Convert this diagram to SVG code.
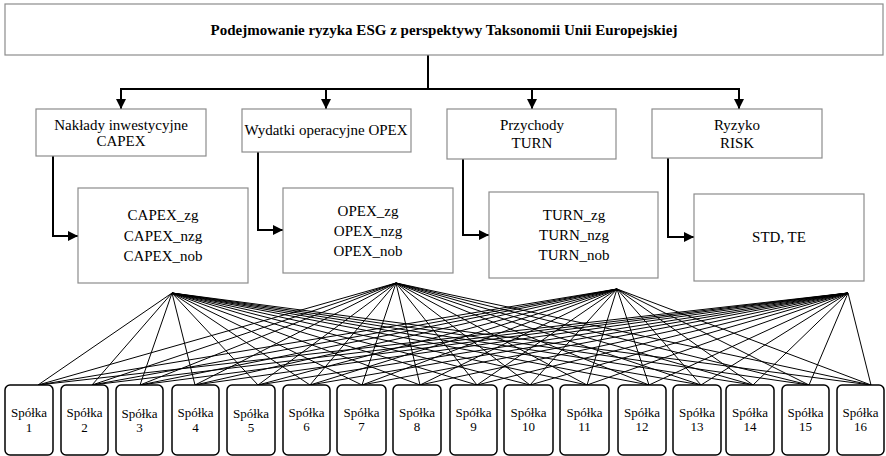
<svg xmlns="http://www.w3.org/2000/svg" width="886" height="456" viewBox="0 0 886 456">
<style>
.box{fill:#fff;stroke:#8c8c8c;stroke-width:1.2}
.sp{fill:#fff;stroke:#000;stroke-width:1.5}
.t{font-family:"Liberation Serif","Times New Roman",serif;font-size:15px;fill:#000;text-anchor:middle}
.title{font-family:"Liberation Serif","Times New Roman",serif;font-size:15px;font-weight:bold;fill:#000;text-anchor:middle}
.s{font-family:"Liberation Serif","Times New Roman",serif;font-size:13px;fill:#000;text-anchor:middle}
.c{fill:none;stroke:#000;stroke-width:2}
.f{stroke:#000;stroke-width:1}
</style>
<defs>
<marker id="ah" markerUnits="userSpaceOnUse" markerWidth="10" markerHeight="10" refX="10" refY="5" orient="auto">
<path d="M0,0 L10,5 L0,10 z" fill="#000"/>
</marker>
</defs>
<g id="connectors">
<path class="c" d="M428,55 V89 M120,89 H740"/>
<line class="c" x1="121" y1="88" x2="121" y2="109" marker-end="url(#ah)"/>
<line class="c" x1="326" y1="88" x2="326" y2="109" marker-end="url(#ah)"/>
<line class="c" x1="532" y1="88" x2="532" y2="109" marker-end="url(#ah)"/>
<line class="c" x1="739" y1="88" x2="739" y2="109" marker-end="url(#ah)"/>
<polyline class="c" points="53,156 53,236 78,236" marker-end="url(#ah)"/>
<polyline class="c" points="258,152 258,230 283,230" marker-end="url(#ah)"/>
<polyline class="c" points="463,159 463,235 489,235" marker-end="url(#ah)"/>
<polyline class="c" points="668,158 668,237 694,237" marker-end="url(#ah)"/>
<g id="fan-capex" class="f">
<line x1="172" y1="293" x2="38" y2="385"/><line x1="172" y1="293" x2="92" y2="385"/><line x1="172" y1="293" x2="140" y2="385"/><line x1="172" y1="293" x2="195" y2="385"/><line x1="172" y1="293" x2="258" y2="385"/><line x1="172" y1="293" x2="310" y2="385"/><line x1="172" y1="293" x2="362" y2="385"/><line x1="172" y1="293" x2="420" y2="385"/><line x1="172" y1="293" x2="477" y2="385"/><line x1="172" y1="293" x2="530" y2="385"/><line x1="172" y1="293" x2="587" y2="385"/><line x1="172" y1="293" x2="649" y2="385"/><line x1="172" y1="293" x2="701" y2="385"/><line x1="172" y1="293" x2="753" y2="385"/><line x1="172" y1="293" x2="809" y2="385"/><line x1="172" y1="293" x2="871" y2="385"/>
</g>
<g id="fan-opex" class="f">
<line x1="396" y1="283" x2="38" y2="385"/><line x1="396" y1="283" x2="92" y2="385"/><line x1="396" y1="283" x2="140" y2="385"/><line x1="396" y1="283" x2="195" y2="385"/><line x1="396" y1="283" x2="258" y2="385"/><line x1="396" y1="283" x2="310" y2="385"/><line x1="396" y1="283" x2="362" y2="385"/><line x1="396" y1="283" x2="420" y2="385"/><line x1="396" y1="283" x2="477" y2="385"/><line x1="396" y1="283" x2="530" y2="385"/><line x1="396" y1="283" x2="587" y2="385"/><line x1="396" y1="283" x2="649" y2="385"/><line x1="396" y1="283" x2="701" y2="385"/><line x1="396" y1="283" x2="753" y2="385"/><line x1="396" y1="283" x2="809" y2="385"/><line x1="396" y1="283" x2="871" y2="385"/>
</g>
<g id="fan-turn" class="f">
<line x1="617" y1="289" x2="38" y2="385"/><line x1="617" y1="289" x2="92" y2="385"/><line x1="617" y1="289" x2="140" y2="385"/><line x1="617" y1="289" x2="195" y2="385"/><line x1="617" y1="289" x2="258" y2="385"/><line x1="617" y1="289" x2="310" y2="385"/><line x1="617" y1="289" x2="362" y2="385"/><line x1="617" y1="289" x2="420" y2="385"/><line x1="617" y1="289" x2="477" y2="385"/><line x1="617" y1="289" x2="530" y2="385"/><line x1="617" y1="289" x2="587" y2="385"/><line x1="617" y1="289" x2="649" y2="385"/><line x1="617" y1="289" x2="701" y2="385"/><line x1="617" y1="289" x2="753" y2="385"/><line x1="617" y1="289" x2="809" y2="385"/><line x1="617" y1="289" x2="871" y2="385"/>
</g>
<g id="fan-risk" class="f">
<line x1="848" y1="293" x2="38" y2="385"/><line x1="848" y1="293" x2="92" y2="385"/><line x1="848" y1="293" x2="140" y2="385"/><line x1="848" y1="293" x2="195" y2="385"/><line x1="848" y1="293" x2="258" y2="385"/><line x1="848" y1="293" x2="310" y2="385"/><line x1="848" y1="293" x2="362" y2="385"/><line x1="848" y1="293" x2="420" y2="385"/><line x1="848" y1="293" x2="477" y2="385"/><line x1="848" y1="293" x2="530" y2="385"/><line x1="848" y1="293" x2="587" y2="385"/><line x1="848" y1="293" x2="649" y2="385"/><line x1="848" y1="293" x2="701" y2="385"/><line x1="848" y1="293" x2="753" y2="385"/><line x1="848" y1="293" x2="809" y2="385"/><line x1="848" y1="293" x2="871" y2="385"/>
</g>
</g>
<g id="title"><rect class="box" x="5" y="4" width="878" height="51"/><text class="title" x="444" y="35">Podejmowanie ryzyka ESG z perspektywy Taksonomii Unii Europejskiej</text></g>
<g id="capex"><rect class="box" x="36" y="109" width="170" height="47"/><text class="t" x="121" y="130">Nakłady inwestycyjne</text><text class="t" x="121" y="146">CAPEX</text></g>
<g id="opex"><rect class="box" x="242" y="109" width="169" height="43"/><text class="t" x="326" y="135">Wydatki operacyjne OPEX</text></g>
<g id="turn"><rect class="box" x="447" y="109" width="169" height="50"/><text class="t" x="532" y="130">Przychody</text><text class="t" x="532" y="148">TURN</text></g>
<g id="risk"><rect class="box" x="652" y="109" width="170" height="49"/><text class="t" x="737" y="130">Ryzyko</text><text class="t" x="737" y="148">RISK</text></g>
<g id="capex-vars"><rect class="box" x="78" y="188" width="170" height="95"/><text class="t" x="163" y="220">CAPEX_zg</text><text class="t" x="163" y="241">CAPEX_nzg</text><text class="t" x="163" y="261">CAPEX_nob</text></g>
<g id="opex-vars"><rect class="box" x="283" y="188" width="170" height="85"/><text class="t" x="368" y="216">OPEX_zg</text><text class="t" x="368" y="236">OPEX_nzg</text><text class="t" x="368" y="256">OPEX_nob</text></g>
<g id="turn-vars"><rect class="box" x="489" y="192" width="169" height="86"/><text class="t" x="574" y="220">TURN_zg</text><text class="t" x="574" y="240">TURN_nzg</text><text class="t" x="574" y="260">TURN_nob</text></g>
<g id="risk-vars"><rect class="box" x="694" y="194" width="170" height="87"/><text class="t" x="779" y="242">STD, TE</text></g>
<g id="s1"><rect class="sp" x="5" y="385" width="48" height="70" rx="5"/><text class="s" x="29" y="417">Spółka</text><text class="s" x="29" y="432">1</text></g>
<g id="s2"><rect class="sp" x="61" y="385" width="47" height="70" rx="5"/><text class="s" x="84.5" y="417">Spółka</text><text class="s" x="84.5" y="432">2</text></g>
<g id="s3"><rect class="sp" x="116" y="385" width="47" height="70" rx="5"/><text class="s" x="139.5" y="418">Spółka</text><text class="s" x="139.5" y="432">3</text></g>
<g id="s4"><rect class="sp" x="172" y="385" width="47" height="70" rx="5"/><text class="s" x="195.5" y="417">Spółka</text><text class="s" x="195.5" y="432">4</text></g>
<g id="s5"><rect class="sp" x="227" y="385" width="48" height="70" rx="5"/><text class="s" x="251" y="418">Spółka</text><text class="s" x="251" y="432">5</text></g>
<g id="s6"><rect class="sp" x="283" y="385" width="47" height="70" rx="5"/><text class="s" x="306.5" y="417">Spółka</text><text class="s" x="306.5" y="431">6</text></g>
<g id="s7"><rect class="sp" x="337" y="385" width="49" height="70" rx="5"/><text class="s" x="361.5" y="417">Spółka</text><text class="s" x="361.5" y="431">7</text></g>
<g id="s8"><rect class="sp" x="393" y="385" width="48" height="70" rx="5"/><text class="s" x="417" y="417">Spółka</text><text class="s" x="417" y="431">8</text></g>
<g id="s9"><rect class="sp" x="450" y="385" width="47" height="70" rx="5"/><text class="s" x="473.5" y="417">Spółka</text><text class="s" x="473.5" y="431">9</text></g>
<g id="s10"><rect class="sp" x="504" y="385" width="49" height="70" rx="5"/><text class="s" x="528.5" y="417">Spółka</text><text class="s" x="528.5" y="431">10</text></g>
<g id="s11"><rect class="sp" x="560" y="385" width="49" height="70" rx="5"/><text class="s" x="584.5" y="417">Spółka</text><text class="s" x="584.5" y="431">11</text></g>
<g id="s12"><rect class="sp" x="618" y="385" width="48" height="70" rx="5"/><text class="s" x="642" y="417">Spółka</text><text class="s" x="642" y="431">12</text></g>
<g id="s13"><rect class="sp" x="673" y="385" width="48" height="70" rx="5"/><text class="s" x="697" y="417">Spółka</text><text class="s" x="697" y="431">13</text></g>
<g id="s14"><rect class="sp" x="726" y="385" width="48" height="70" rx="5"/><text class="s" x="750" y="417">Spółka</text><text class="s" x="750" y="431">14</text></g>
<g id="s15"><rect class="sp" x="782" y="385" width="47" height="70" rx="5"/><text class="s" x="805.5" y="417">Spółka</text><text class="s" x="805.5" y="431">15</text></g>
<g id="s16"><rect class="sp" x="837" y="385" width="47" height="70" rx="5"/><text class="s" x="860.5" y="417">Spółka</text><text class="s" x="860.5" y="431">16</text></g>
</svg>
